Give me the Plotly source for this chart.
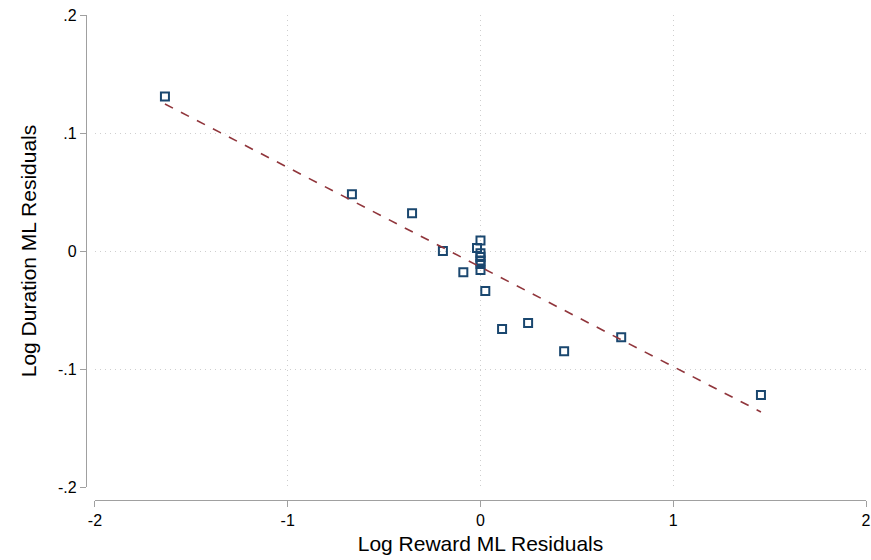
import plotly.graph_objects as go

# Data
reward_resid = [-1.637, -0.667, -0.355, -0.195, -0.089, -0.018, 0.0,
                0.0, 0.0, 0.0, 0.0, 0.0, 0.025,
                0.112, 0.247, 0.434, 0.73, 1.455]
duration_resid = [0.131, 0.048, 0.032, 0.0, -0.018, 0.0025, 0.009,
                  -0.002, -0.005, -0.008, -0.011, -0.016, -0.034,
                  -0.066, -0.061, -0.085, -0.073, -0.122]

fit_x = [-1.637, 1.455]
fit_y = [0.1246, -0.1364]

x_ticks = [-2, -1, 0, 1, 2]
x_tick_labels = ["-2", "-1", "0", "1", "2"]
y_ticks = [0.2, 0.1, 0, -0.1, -0.2]
y_tick_labels = [".2", ".1", "0", "-.1", "-.2"]

fig = go.Figure()
fig.add_trace(go.Scatter(
    x=reward_resid, y=duration_resid, mode="markers",
    marker=dict(symbol="square-open", size=8, color="#1a476f",
                line=dict(width=2, color="#1a476f")),
    showlegend=False, hoverinfo="skip", cliponaxis=False))
fig.add_trace(go.Scatter(
    x=fit_x, y=fit_y, mode="lines",
    line=dict(color="#90353b", width=1.6, dash="dash"),
    showlegend=False, hoverinfo="skip"))

font_family = "Liberation Sans, Arial, sans-serif"
fig.update_layout(
    width=871, height=560,
    margin=dict(l=86, r=5, t=15, b=60, autoexpand=False),
    paper_bgcolor="white", plot_bgcolor="white",
    font=dict(family=font_family, size=16, color="#000"),
    xaxis=dict(
        domain=[0.0115, 1.0], anchor="free", position=0, automargin=False,
        range=[-2, 2], tickvals=x_ticks, ticktext=x_tick_labels,
        ticklabeloverflow="allow",
        showline=True, linecolor="#a0a0a0", linewidth=1.2,
        ticks="outside", ticklen=6, tickcolor="#a0a0a0",
        showgrid=True, gridcolor="#cfcfcf", griddash="1px,4px", gridwidth=1,
        zeroline=False,
        title=dict(text="Log Reward ML Residuals", font=dict(size=21), standoff=8),
    ),
    yaxis=dict(
        domain=[0.0268, 1.0], anchor="free", position=0, automargin=False,
        range=[-0.2, 0.2], tickvals=y_ticks, ticktext=y_tick_labels,
        ticklabeloverflow="allow",
        showline=True, linecolor="#a0a0a0", linewidth=1.2,
        ticks="outside", ticklen=6, tickcolor="#a0a0a0",
        showgrid=True, gridcolor="#cfcfcf", griddash="1px,4px", gridwidth=1,
        zeroline=False,
        title=dict(text="Log Duration ML Residuals", font=dict(size=21), standoff=14),
    ),
)

fig.write_html(
    "out.html",
    config={"displayModeBar": False},
    post_script="document.body.style.margin='0';document.body.style.overflow='hidden';",
)
